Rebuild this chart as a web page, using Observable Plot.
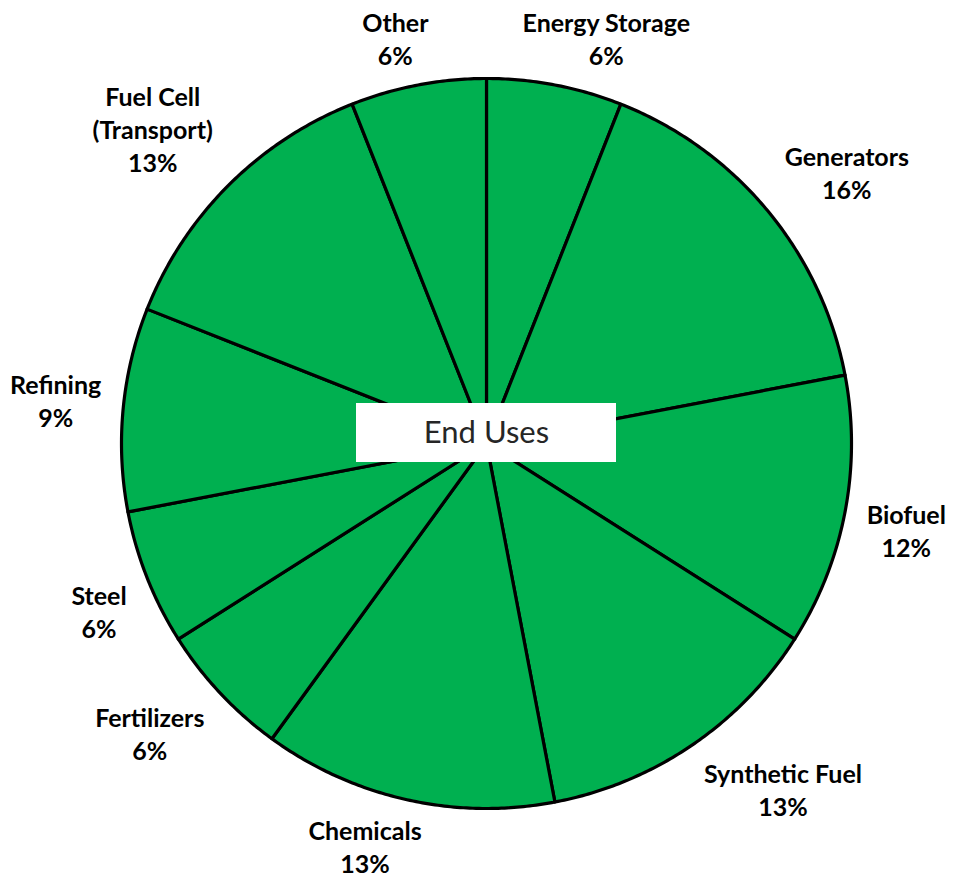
<!DOCTYPE html>
<html>
<head>
<meta charset="utf-8">
<script src="https://cdn.jsdelivr.net/npm/d3@7"></script>
<script src="https://cdn.jsdelivr.net/npm/@observablehq/plot@0.6"></script>
<style>
  html, body { margin: 0; padding: 0; background: #ffffff; }
  #chart { width: 970px; height: 884px; }
</style>
</head>
<body>
<div id="chart"></div>
<script>
// ---- Data ----
const categories = ["Energy Storage", "Generators", "Biofuel", "Synthetic Fuel", "Chemicals",
                    "Fertilizers", "Steel", "Refining", "Fuel Cell\n(Transport)", "Other"];
const shares = [6, 16, 12, 13, 13, 6, 6, 9, 13, 6];
const centerLabel = ["End Uses"];

// ---- Layout constants ----
const W = 970, H = 884;
const CX = 486, CY = 443;      // pie centre in pixels
const R = 365;                 // pie radius in pixels (1 data unit)
const LABEL_FONT = 25, LABEL_LH = 33;
const FONT = "Lato, 'Open Sans', sans-serif";
const GREEN = "#00B050";

// ---- Build slice polygons from the shares ----
const total = d3.sum(shares);
const polys = [];
const labels = [];
const ctx = document.createElement("canvas").getContext("2d");
ctx.font = `bold ${LABEL_FONT}px ${FONT}`;
let cum = 0;
categories.forEach((name, i) => {
  const v = shares[i];
  const a0 = 2 * Math.PI * cum / total;
  const a1 = 2 * Math.PI * (cum + v) / total;
  const n = Math.max(2, Math.ceil((a1 - a0) / (Math.PI / 360)));
  polys.push({key: name, x: 0, y: 0});
  for (let k = 0; k <= n; k++) {
    const t = a0 + (a1 - a0) * k / n;
    polys.push({key: name, x: Math.sin(t), y: Math.cos(t)});
  }
  polys.push({key: name, x: 0, y: 0});

  // label placement (outside end): box just outside the circle along the mid angle
  const am = (a0 + a1) / 2;
  const text = `${name}\n${v}%`;
  const lines = text.split("\n");
  const w = d3.max(lines, l => ctx.measureText(l).width);
  const h = (lines.length - 1) * LABEL_LH + 17;
  const clamp = z => Math.max(-1, Math.min(1, z));
  const r0 = 387 / R;
  const ox = (w / 2) * clamp(3 * Math.sin(am)) / R;
  const oy = (h / 2) * clamp(3 * Math.cos(am)) / R;
  labels.push({text, x: r0 * Math.sin(am) + ox, y: r0 * Math.cos(am) + oy});
  cum += v;
});

// centre label box (pixels relative to pie centre)
const box = [{x1: -130 / R, x2: 130 / R, y1: -19 / R, y2: 40 / R}];

const chart = Plot.plot({
  width: W,
  height: H,
  margin: 0,
  style: {fontFamily: FONT, background: "#ffffff"},
  x: {domain: [-CX / R, (W - CX) / R], axis: null},
  y: {domain: [-(H - CY) / R, CY / R], axis: null},
  marks: [
    Plot.line(polys, {
      x: "x", y: "y", z: "key",
      fill: GREEN, stroke: "#000000", strokeWidth: 3.2,
      strokeLinejoin: "round", curve: "linear"
    }),
    Plot.rect(box, {x1: "x1", x2: "x2", y1: "y1", y2: "y2", fill: "#ffffff"}),
    Plot.text(centerLabel, {
      x: () => 0, y: () => (box[0].y1 + box[0].y2) / 2,
      text: d => d, fontSize: 31, fill: "#262626",
      textAnchor: "middle", lineAnchor: "middle"
    }),
    Plot.text(labels, {
      x: "x", y: "y", text: "text",
      fontSize: LABEL_FONT, fontWeight: "bold", fill: "#000000",
      textAnchor: "middle", lineAnchor: "middle", lineHeight: LABEL_LH / LABEL_FONT
    })
  ]
});
document.getElementById("chart").appendChild(chart);
</script>
</body>
</html>
